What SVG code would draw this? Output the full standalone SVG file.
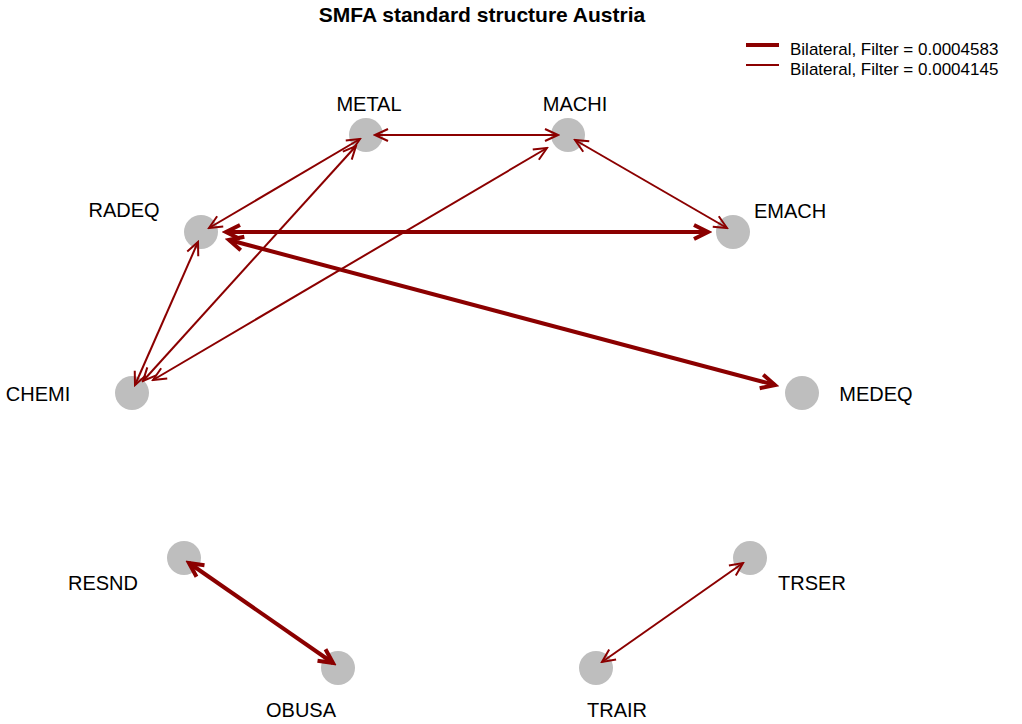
<svg xmlns="http://www.w3.org/2000/svg" width="1022" height="724" viewBox="0 0 1022 724">
<style>
  text { font-family: "Liberation Sans", Arial, sans-serif; fill: #000; }
  .lbl { font-size: 20px; text-anchor: middle; }
  .title { font-size: 21px; font-weight: bold; text-anchor: middle; }
  .leg { font-size: 17px; }
  .node { fill: #BEBEBE; }
  .thin { stroke: #8B0000; stroke-width: 2; fill: none; marker-start: url(#ah); marker-end: url(#ah); }
  .thick { stroke: #8B0000; stroke-width: 4; fill: none; marker-start: url(#ahb); marker-end: url(#ahb); }
</style>
<defs>
  <marker id="ah" markerUnits="userSpaceOnUse" viewBox="-16 -8 18 16" refX="0" refY="0" markerWidth="18" markerHeight="16" orient="auto-start-reverse">
    <path d="M-13,-6 L0,0 L-13,6" fill="none" stroke="#8B0000" stroke-width="2"/>
  </marker>
  <marker id="ahb" markerUnits="userSpaceOnUse" viewBox="-18 -10 22 20" refX="0" refY="0" markerWidth="22" markerHeight="20" orient="auto-start-reverse">
    <path d="M-14,-7 L0,0 L-14,7" fill="none" stroke="#8B0000" stroke-width="4"/>
  </marker>
</defs>
<rect width="1022" height="724" fill="#fff"/>
<text class="title" x="482" y="22">SMFA standard structure Austria</text>
<g id="legend">
  <line x1="746" y1="45" x2="779" y2="45" stroke="#8B0000" stroke-width="4"/>
  <line x1="746" y1="65" x2="779" y2="65" stroke="#8B0000" stroke-width="2"/>
  <text class="leg" x="790" y="55">Bilateral, Filter = 0.0004583</text>
  <text class="leg" x="790" y="75">Bilateral, Filter = 0.0004145</text>
</g>
<g id="nodes">
  <g id="METAL"><circle class="node" cx="366" cy="135" r="17"/><text class="lbl" x="369" y="111">METAL</text></g>
  <g id="MACHI"><circle class="node" cx="568" cy="135" r="17"/><text class="lbl" x="575" y="111">MACHI</text></g>
  <g id="RADEQ"><circle class="node" cx="201" cy="232" r="17"/><text class="lbl" x="124" y="217">RADEQ</text></g>
  <g id="EMACH"><circle class="node" cx="733" cy="232" r="17"/><text class="lbl" x="790" y="218">EMACH</text></g>
  <g id="CHEMI"><circle class="node" cx="132" cy="393" r="17"/><text class="lbl" x="38" y="401">CHEMI</text></g>
  <g id="MEDEQ"><circle class="node" cx="802" cy="393" r="17"/><text class="lbl" x="876" y="401">MEDEQ</text></g>
  <g id="RESND"><circle class="node" cx="184" cy="558" r="17"/><text class="lbl" x="103" y="590">RESND</text></g>
  <g id="TRSER"><circle class="node" cx="750" cy="558" r="17"/><text class="lbl" x="812" y="590">TRSER</text></g>
  <g id="OBUSA"><circle class="node" cx="338" cy="668" r="17"/><text class="lbl" x="301" y="717">OBUSA</text></g>
  <g id="TRAIR"><circle class="node" cx="596" cy="668" r="17"/><text class="lbl" x="617" y="717">TRAIR</text></g>
</g>
<g id="connectors">
  <line class="thin" x1="375" y1="135" x2="558" y2="135"/>
  <line class="thin" x1="575" y1="140" x2="727" y2="228"/>
  <line class="thin" x1="360" y1="139" x2="209" y2="228"/>
  <line class="thin" x1="356" y1="146" x2="143" y2="381"/>
  <line class="thin" x1="547" y1="148" x2="153" y2="380"/>
  <line class="thin" x1="198" y1="242" x2="135" y2="385"/>
  <line class="thin" x1="743" y1="563" x2="602" y2="662"/>
  <line class="thick" x1="226" y1="232" x2="708" y2="232"/>
  <line class="thick" x1="229" y1="240" x2="775" y2="385"/>
  <line class="thick" x1="189" y1="563" x2="333" y2="663"/>
</g>
</svg>
